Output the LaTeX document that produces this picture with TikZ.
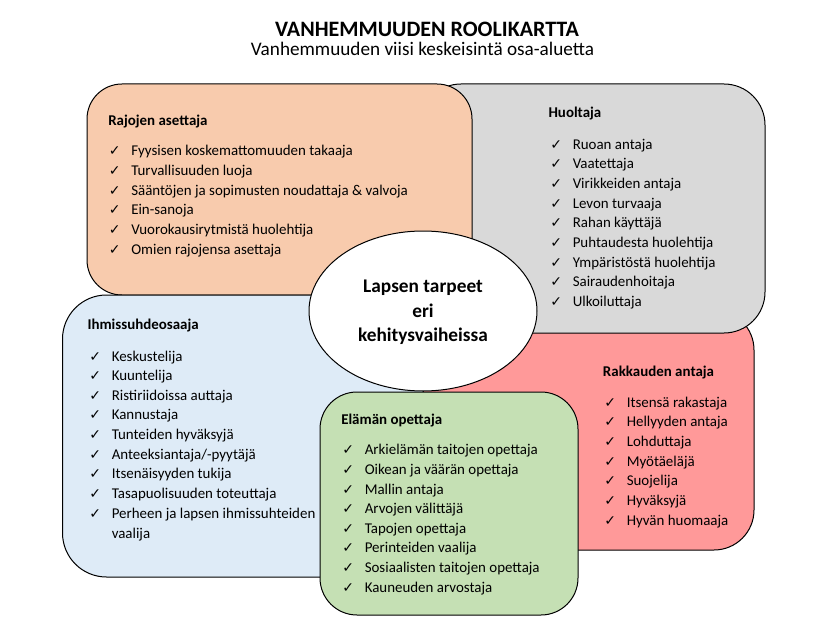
\documentclass[tikz,border=0pt]{standalone}
\usepackage{fontspec}
\setmainfont{Carlito}
\newfontfamily\chkfont{DejaVu Sans}
\usetikzlibrary{shapes.geometric}
\definecolor{cOrange}{HTML}{F8CBAD}
\definecolor{cGrey}{HTML}{D9D9D9}
\definecolor{cBlue}{HTML}{DEEBF7}
\definecolor{cRed}{HTML}{FF9999}
\definecolor{cGreen}{HTML}{C5E0B4}
\tikzset{
  box/.style={draw=black, line width=0.75pt},
  hdr/.style={anchor=base west, inner sep=0pt, font=\fontsize{11.2}{13}\selectfont\bfseries},
  itm/.style={anchor=base west, inner sep=0pt, font=\fontsize{11.2}{13}\selectfont},
  chk/.style={anchor=base west, inner sep=0pt, font=\chkfont\fontsize{10.5}{10}\selectfont},
  ctr/.style={anchor=base, inner sep=0pt, font=\fontsize{14.5}{16}\selectfont\bfseries},
}
% #1 name prefix, #2 x of header, #3 baseline of first item, #4 list
\newcommand{\checklist}[4]{%
  \foreach \t [count=\i] in {#4} {
    \node[chk] (#1c\i) at (#2+0.5, #3+19.65*\i-19.65) {✓};
    \node[itm] (#1t\i) at (#2+23, #3+19.65*\i-19.65) {\t};
  }%
}
\begin{document}
\begin{tikzpicture}[x=0.75pt, y=-0.75pt]
\useasboundingbox (0,0) rectangle (831,631);
\fill[white] (0,0) rectangle (831,631);

% title
\node[anchor=base, inner sep=0pt, font=\fontsize{16.5}{19}\selectfont\bfseries] (title) at (427,36.8) {VANHEMMUUDEN ROOLIKARTTA};
\node[anchor=base, inner sep=0pt, font=\fontsize{14.4}{17}\selectfont] (subtitle) at (422.5,56) {Vanhemmuuden viisi keskeisintä osa-aluetta};

% boxes (back to front)
\draw[box, fill=cRed, rounded corners=30pt] (423,310) rectangle (754,550);
\draw[box, fill=cGrey, rounded corners=30.75pt] (420,84) rectangle (765,333);
\draw[box, fill=cOrange, rounded corners=26.25pt] (87,84) rectangle (472,295);
\draw[box, fill=cBlue, rounded corners=33pt] (62.5,295) rectangle (423,577);
\draw[box, fill=cGreen, rounded corners=27.75pt] (320,392) rectangle (578,615);

% centre ellipse
\node[box, ellipse, fill=white, minimum width=171pt, minimum height=120pt, inner sep=0pt] (centre) at (423,311) {};
\node[ctr] (c1) at (423,292.3) {Lapsen tarpeet};
\node[ctr] (c2) at (423,317.3) {eri};
\node[ctr] (c3) at (423,341.7) {kehitysvaiheissa};

% Rajojen asettaja
\node[hdr] (hR) at (108,125.7) {Rajojen asettaja};
\checklist{R}{108}{156}{Fyysisen koskemattomuuden takaaja, Turvallisuuden luoja, Sääntöjen ja sopimusten noudattaja \& valvoja, Ein-sanoja, Vuorokausirytmistä huolehtija, Omien rajojensa asettaja}

% Huoltaja
\node[hdr] (hH) at (548.3,117.3) {Huoltaja};
\checklist{H}{549.5}{149.3}{Ruoan antaja, Vaatettaja, Virikkeiden antaja, Levon turvaaja, Rahan käyttäjä, Puhtaudesta huolehtija, Ympäristöstä huolehtija, Sairaudenhoitaja, Ulkoiluttaja}

% Ihmissuhdeosaaja
\node[hdr] (hI) at (87.3,329) {Ihmissuhdeosaaja};
\checklist{I}{88.5}{361}{Keskustelija, Kuuntelija, Ristiriidoissa auttaja, Kannustaja, Tunteiden hyväksyjä, Anteeksiantaja/-pyytäjä, Itsenäisyyden tukija, Tasapuolisuuden toteuttaja, Perheen ja lapsen ihmissuhteiden}
\node[itm] (Ivaalija) at (111.5,538.3) {vaalija};

% Rakkauden antaja
\node[hdr] (hK) at (602.7,376.7) {Rakkauden antaja};
\checklist{K}{603.5}{407.3}{Itsensä rakastaja, Hellyyden antaja, Lohduttaja, Myötäeläjä, Suojelija, Hyväksyjä, Hyvän huomaaja}

% Elämän opettaja
\node[hdr] (hE) at (341,424) {Elämän opettaja};
\checklist{E}{341.5}{454.7}{Arkielämän taitojen opettaja, Oikean ja väärän opettaja, Mallin antaja, Arvojen välittäjä, Tapojen opettaja, Perinteiden vaalija, Sosiaalisten taitojen opettaja, Kauneuden arvostaja}
\end{tikzpicture}
\end{document}
